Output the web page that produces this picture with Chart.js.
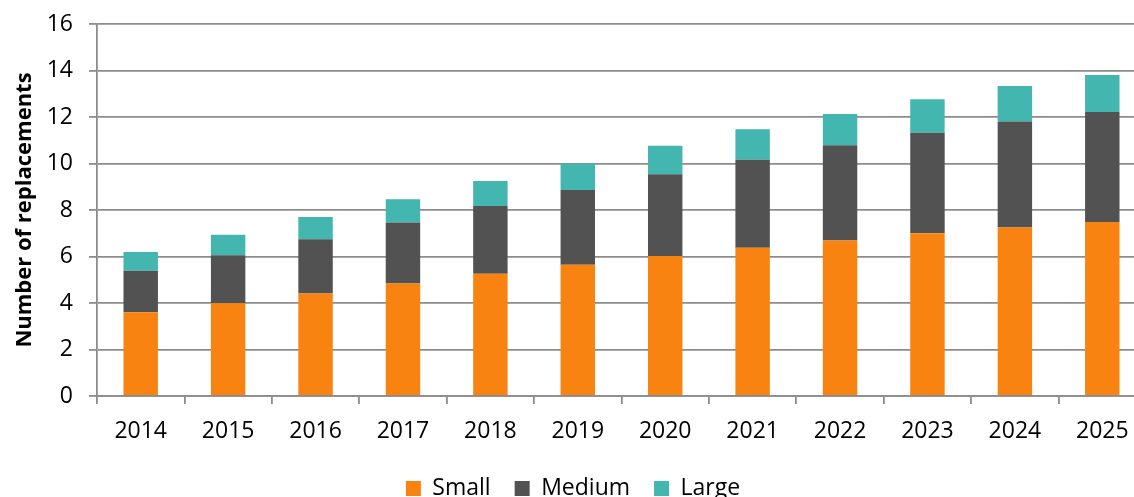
<!DOCTYPE html>
<html>
<head>
<meta charset="utf-8">
<script src="https://cdn.jsdelivr.net/npm/chart.js@4.4.1/dist/chart.umd.min.js"></script>
<style>
  html, body { margin: 0; padding: 0; background: #fff; overflow: hidden; }
  #wrap { position: relative; width: 1150px; height: 497px; }
</style>
</head>
<body>
<div id="wrap"><canvas id="c"></canvas></div>
<script>
const categories = ['2014','2015','2016','2017','2018','2019','2020','2021','2022','2023','2024','2025'];
const smallValues  = [3.60, 3.99, 4.41, 4.84, 5.26, 5.65, 6.02, 6.38, 6.69, 7.00, 7.25, 7.48];
const mediumValues = [1.79, 2.06, 2.33, 2.62, 2.91, 3.21, 3.52, 3.78, 4.09, 4.32, 4.56, 4.74];
const largeValues  = [0.80, 0.89, 0.96, 1.00, 1.08, 1.14, 1.22, 1.31, 1.35, 1.44, 1.52, 1.59];
const seriesNames = ['Small', 'Medium', 'Large'];
const yTitle = 'Number of replacements';
const yMin = 0, yMax = 16, yStep = 2;

const FONT = "'Open Sans', sans-serif";
const GRID = '#8c8c8c';

new Chart(document.getElementById('c'), {
  type: 'bar',
  data: {
    labels: categories,
    datasets: [
      { label: seriesNames[0], data: smallValues,  backgroundColor: '#F88311' },
      { label: seriesNames[1], data: mediumValues, backgroundColor: '#525252' },
      { label: seriesNames[2], data: largeValues,  backgroundColor: '#44B6B0' }
    ]
  },
  options: {
    responsive: true,
    maintainAspectRatio: false,
    animation: false,
    datasets: { bar: { barPercentage: 0.394, categoryPercentage: 1.0 } },
    layout: { padding: { top: 24, left: 0, right: 4, bottom: -13 } },
    plugins: {
      tooltip: { enabled: false },
      legend: {
        position: 'bottom',
        labels: {
          boxWidth: 15, boxHeight: 15, padding: 24,
          color: '#000',
          font: { family: FONT, size: 23 }
        }
      }
    },
    scales: {
      x: {
        stacked: true,
        grid: { display: true, drawOnChartArea: false, drawTicks: true, tickLength: 8, color: GRID, lineWidth: 1.8 },
        border: { display: true, color: GRID, width: 1.8 },
        ticks: { color: '#000', padding: 14, font: { family: FONT, size: 23 }, maxRotation: 0 },
        afterFit(scale) { scale.height = 57; }
      },
      y: {
        stacked: true,
        min: yMin, max: yMax,
        ticks: { stepSize: yStep, color: '#000', padding: 16, font: { family: FONT, size: 23 } },
        grid: { color: GRID, lineWidth: 1.8, tickLength: 8 },
        border: { display: true, color: GRID, width: 1.8 },
        title: { display: true, text: yTitle, color: '#000', padding: { top: 12, bottom: 0 }, font: { family: FONT, size: 22, weight: 'bold' } },
        afterFit(scale) { scale.width = 97; scale.paddingTop = 0; scale.paddingBottom = 0; }
      }
    }
  }
});
</script>
</body>
</html>
